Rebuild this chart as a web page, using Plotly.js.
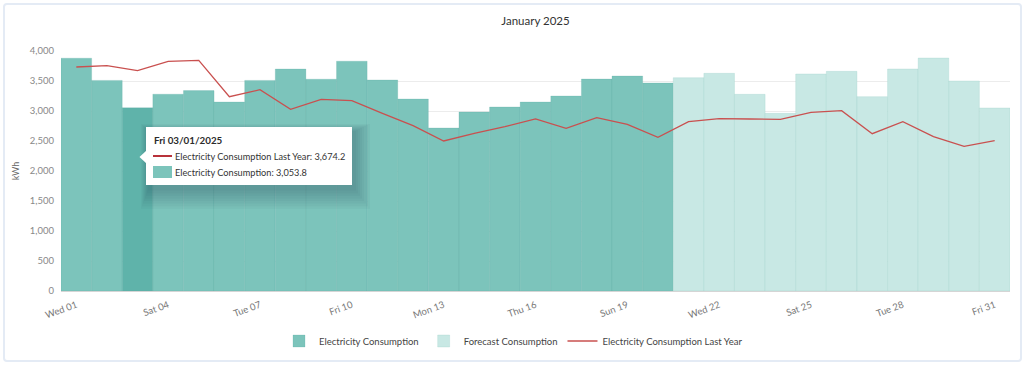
<!DOCTYPE html>
<html>
<head>
<meta charset="utf-8">
<script src="https://cdn.plot.ly/plotly-3.0.1.min.js"></script>
<style>
  html, body { margin: 0; padding: 0; background: #ffffff; }
  #wrap { position: relative; width: 1024px; height: 366px; overflow: hidden; }
  #chart { position: absolute; left: 0; top: 0; width: 1024px; height: 366px; }
  #card { position: absolute; left: 3px; top: 3px; width: 1015px; height: 355px;
          border: 2px solid #e4ebf5; border-radius: 4px; pointer-events: none; }
</style>
</head>
<body>
<div id="wrap">
  <div id="chart"></div>
  <div id="card"></div>
</div>
<script>
// ---- data ----
const days = ['Wed 01','Thu 02','Fri 03','Sat 04','Sun 05','Mon 06','Tue 07','Wed 08','Thu 09','Fri 10',
              'Sat 11','Sun 12','Mon 13','Tue 14','Wed 15','Thu 16','Fri 17','Sat 18','Sun 19','Mon 20',
              'Tue 21','Wed 22','Thu 23','Fri 24','Sat 25','Sun 26','Mon 27','Tue 28','Wed 29','Thu 30','Fri 31'];
const consumption = [3880, 3510, 3053.8, 3280, 3340, 3150, 3510, 3700, 3530, 3830,
                     3517, 3200, 2717, 2983, 3067, 3150, 3250, 3533, 3583, 3467,
                     null, null, null, null, null, null, null, null, null, null, null];
const forecast = [null, null, null, null, null, null, null, null, null, null,
                  null, null, null, null, null, null, null, null, null, null,
                  3555, 3628, 3278, 2961, 3617, 3661, 3239, 3700, 3883, 3500, 3050];
const lastYear = [3733, 3755, 3674.2, 3828, 3845, 3238, 3355, 3028, 3195, 3172,
                  2961, 2755, 2500, 2628, 2739, 2867, 2711, 2889, 2778, 2561,
                  2822, 2872, 2867, 2861, 2978, 3005, 2622, 2822, 2572, 2411, 2505];
const tickDays = ['Wed 01','Sat 04','Tue 07','Fri 10','Mon 13','Thu 16','Sun 19','Wed 22','Sat 25','Tue 28','Fri 31'];
const hoverIndex = 2;
const hoverTitle = 'Fri 03/01/2025';

// ---- styles ----
const FONT = 'Lato, "Open Sans", sans-serif';
const teal = '#7cc4bb';
const tealHover = '#5fb3aa';
const forecastColor = '#c8e8e4';
const red = '#c9504f';

const barColors = consumption.map((v, i) => i === hoverIndex ? tealHover : teal);

// pixel -> paper helpers (plot area: x 61..1010, y 51..291)
const L = 61, R = 1010, T = 51, B = 291;
const px = x => (x - L) / (R - L);
const py = y => (B - y) / (B - T);

const fmt = v => v.toLocaleString('en-US', {minimumFractionDigits: 1, maximumFractionDigits: 1});

const traces = [
  {
    type: 'bar', name: 'Electricity Consumption', x: days, y: consumption,
    marker: { color: barColors, line: { color: 'rgba(80,165,155,0.35)', width: 0.6 } },
    hoverinfo: 'skip'
  },
  {
    type: 'bar', name: 'Forecast Consumption', x: days, y: forecast,
    marker: { color: forecastColor, line: { color: 'rgba(150,205,198,0.45)', width: 0.6 } },
    hoverinfo: 'skip'
  },
  {
    type: 'scatter', mode: 'lines', name: 'Electricity Consumption Last Year', x: days, y: lastYear,
    line: { color: red, width: 1.3 },
    hoverinfo: 'skip'
  }
];

// tooltip geometry (pixels)
const bx0 = 146, bx1 = 352, by0 = 127, by1 = 185;
const shapes = [];
// soft shadow
for (let k = 1; k <= 8; k++) {
  shapes.push({ type: 'rect', xref: 'paper', yref: 'paper', layer: 'above',
    x0: px(bx0 - k + 3), x1: px(bx1 + k * 2 + 2), y0: py(by1 + k * 2.6 + 3), y1: py(by0 - k + 5),
    fillcolor: 'rgba(20,60,70,0.04)', line: { width: 0 } });
}
shapes.push({ type: 'rect', xref: 'paper', yref: 'paper', layer: 'above',
  x0: px(bx0), x1: px(bx1), y0: py(by1), y1: py(by0),
  fillcolor: '#ffffff', line: { color: '#ffffff', width: 0 } });
// pointer
shapes.push({ type: 'path', xref: 'paper', yref: 'paper', layer: 'above',
  path: `M ${px(bx0 + 1)} ${py(150)} L ${px(139.5)} ${py(157)} L ${px(bx0 + 1)} ${py(164)} Z`,
  fillcolor: '#ffffff', line: { width: 0 } });
// legend icons in tooltip
shapes.push({ type: 'line', xref: 'paper', yref: 'paper', layer: 'above',
  x0: px(153), x1: px(172), y0: py(156), y1: py(156), line: { color: '#b8323a', width: 2 } });
shapes.push({ type: 'rect', xref: 'paper', yref: 'paper', layer: 'above',
  x0: px(153), x1: px(172), y0: py(178), y1: py(166), fillcolor: teal, line: { width: 0 } });

const annotations = [
  { xref: 'paper', yref: 'paper', x: px(152), y: py(140), xanchor: 'left', yanchor: 'middle',
    text: '<b>' + hoverTitle + '</b>', showarrow: false, font: { family: FONT, size: 9.8, color: '#2b2b2b' } },
  { xref: 'paper', yref: 'paper', x: px(173), y: py(156), xanchor: 'left', yanchor: 'middle',
    text: 'Electricity Consumption Last Year: ' + fmt(lastYear[hoverIndex]), showarrow: false,
    font: { family: FONT, size: 9.2, color: '#333333' } },
  { xref: 'paper', yref: 'paper', x: px(173), y: py(172), xanchor: 'left', yanchor: 'middle',
    text: 'Electricity Consumption: ' + fmt(consumption[hoverIndex]), showarrow: false,
    font: { family: FONT, size: 9.2, color: '#333333' } }
];

const layout = {
  width: 1024, height: 366,
  margin: { l: L, r: 1024 - R, t: T, b: 366 - B, autoexpand: false },
  paper_bgcolor: '#ffffff', plot_bgcolor: '#ffffff',
  font: { family: FONT, color: '#555555' },
  title: { text: 'January 2025', x: 0.5, xanchor: 'center', xref: 'paper',
           y: 1 - 21 / 366, yref: 'container', yanchor: 'middle',
           font: { family: FONT, size: 11.5, color: '#333333' } },
  barmode: 'overlay', bargap: 0,
  showlegend: true,
  legend: { orientation: 'h', x: px(279), xanchor: 'left',
            y: (B - 341) / (B - T), yanchor: 'middle',
            font: { family: FONT, size: 9.5, color: '#444444' }, traceorder: 'normal', itemwidth: 30 },
  xaxis: {
    type: 'category', categoryorder: 'array', categoryarray: days,
    tickmode: 'array', tickvals: tickDays, ticktext: tickDays, tickangle: -20,
    tickfont: { family: FONT, size: 9.5, color: '#777777' }, ticklabelstandoff: 6,
    showgrid: false, showline: false, ticks: '', zeroline: false
  },
  yaxis: {
    range: [0, 4000], dtick: 500, tickformat: ',',
    tickfont: { family: FONT, size: 9.5, color: '#888888' },
    gridcolor: '#ececec', gridwidth: 1, zeroline: true, zerolinecolor: '#d5d5d5', zerolinewidth: 1,
    ticks: '', ticklabelstandoff: 6,
    title: { text: 'kWh', font: { family: FONT, size: 9, color: '#666666' }, standoff: 8 }
  },
  shapes: shapes,
  annotations: annotations
};

Plotly.newPlot('chart', traces, layout, { displayModeBar: false, staticPlot: true });
</script>
</body>
</html>
